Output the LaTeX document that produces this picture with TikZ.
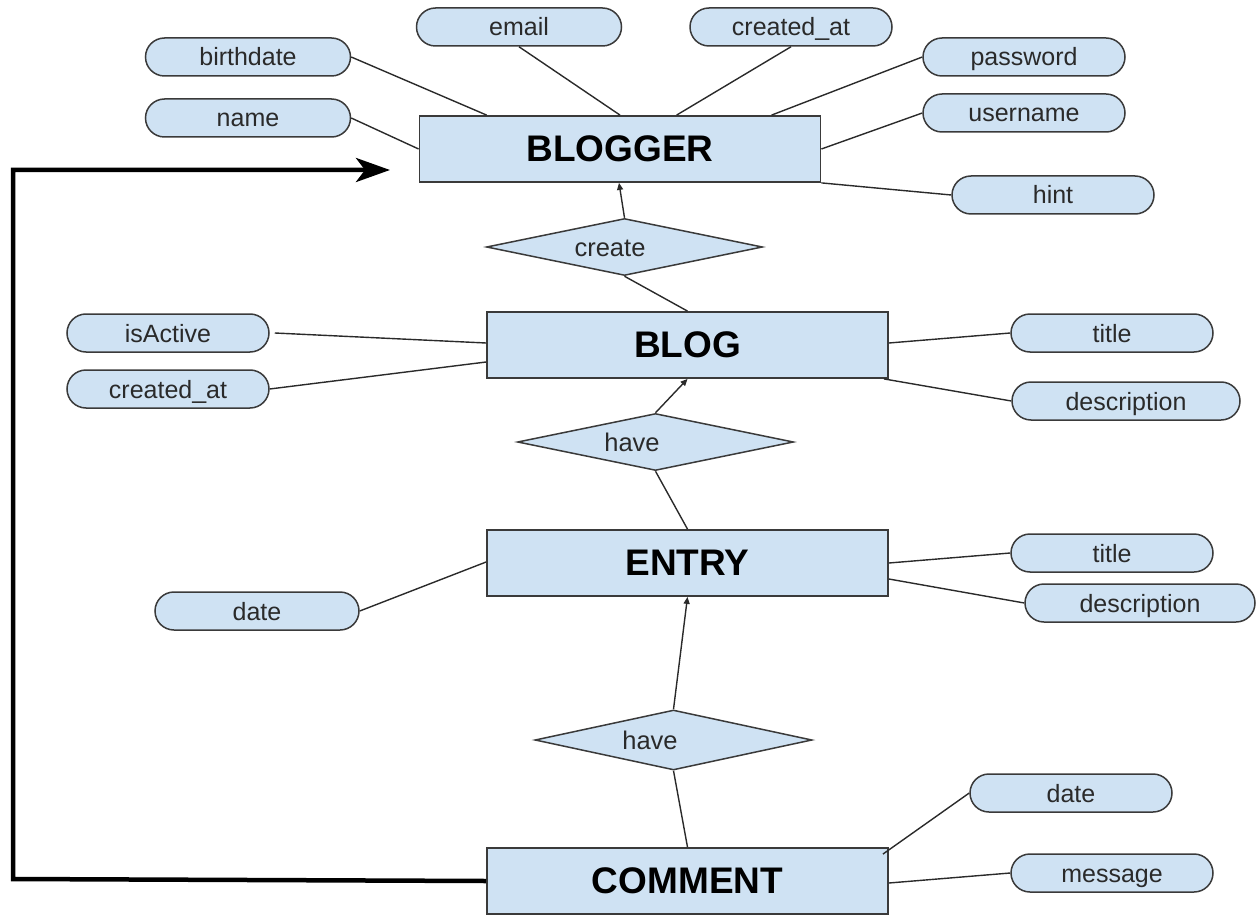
\documentclass[tikz,border=0pt]{standalone}
\usepackage{fontspec}
\setmainfont{Liberation Sans}
\usetikzlibrary{shapes.geometric,arrows.meta}
\definecolor{erfill}{HTML}{CFE2F3}
\definecolor{erline}{HTML}{3A3A3A}
\definecolor{ertext}{HTML}{2A2A2A}
\begin{document}
\begin{tikzpicture}[x=1pt,y=-1pt,
  entity/.style={draw=erline,line width=1.8pt,fill=erfill,minimum width=401pt,minimum height=66pt,inner sep=0pt,font=\fontsize{37}{44}\selectfont\bfseries},
  attr/.style={draw=erline,line width=1.5pt,fill=erfill,rounded corners=19pt,minimum width=202pt,minimum height=38pt,inner sep=0pt,text=ertext,text height=18pt,text depth=0pt,font=\fontsize{25}{30}\selectfont},
  rel/.style={draw=erline,line width=1.5pt,fill=erfill,diamond,inner sep=0pt,minimum width=276pt,minimum height=57pt},
  reltext/.style={text=ertext,text height=18pt,text depth=0pt,inner sep=0pt,font=\fontsize{25.5}{30}\selectfont},
  conn/.style={draw=ertext,line width=1.4pt},
  connarrow/.style={conn,-{Triangle[length=7pt,width=6pt]}},
  loop/.style={draw=black,line width=4.5pt,-{Stealth[length=34pt,width=24pt,inset=9pt]}}
]
\useasboundingbox (0,0) rectangle (1257,917);

% entities
\node[entity] (blogger) at (620,149) {BLOGGER};
\node[entity] (blog) at (687.5,345) {BLOG};
\node[entity] (entry) at (687.5,563) {ENTRY};
\node[entity] (comment) at (687.5,881) {COMMENT};

% relationships
\node[rel] (create) at (624.5,247) {};
\node[reltext] (createtxt) at (610,247) {create};
\node[rel] (have1) at (655.5,442) {};
\node[reltext] (have1txt) at (632,442) {have};
\node[rel,minimum width=277pt,minimum height=60pt] (have2) at (673.5,740) {};
\node[reltext] (have2txt) at (650,740) {have};

% attributes
\node[attr,minimum width=205pt] (birthdate) at (248,57) {birthdate};
\node[attr,minimum width=205pt] (email) at (519,27) {email};
\node[attr] (cat1) at (791,27) {created\_at};
\node[attr] (password) at (1024,57) {password};
\node[attr,minimum width=205pt] (name) at (248,118) {name};
\node[attr] (username) at (1024,113) {username};
\node[attr] (hint) at (1053,195) {hint};
\node[attr] (isactive) at (168,333) {isActive};
\node[attr] (cat2) at (168,389) {created\_at};
\node[attr] (btitle) at (1112,333) {title};
\node[attr,minimum width=228pt] (bdesc) at (1126,401) {description};
\node[attr,minimum width=204pt] (edate) at (257,611) {date};
\node[attr] (etitle) at (1112,553) {title};
\node[attr,minimum width=230pt] (edesc) at (1140,603) {description};
\node[attr] (cdate) at (1071,793) {date};
\node[attr] (cmsg) at (1112,873) {message};

% attribute connectors
\draw[conn] (birthdate.east) -- ([xshift=68pt]blogger.north west);
\draw[conn] (email.south) -- (blogger.north);
\draw[conn] (cat1.south) -- ([xshift=258pt]blogger.north west);
\draw[conn] (password.west) -- ([xshift=353pt]blogger.north west);
\draw[conn] (name.east) -- (blogger.west);
\draw[conn] (username.west) -- (blogger.east);
\draw[conn] (hint.west) -- (blogger.south east);
\draw[conn] ([xshift=5pt]isactive.east) -- ([yshift=2pt]blog.west);
\draw[conn] (cat2.east) -- ([yshift=-17pt]blog.west);
\draw[conn] (btitle.west) -- ([yshift=2pt]blog.east);
\draw[conn] (bdesc.west) -- ([xshift=-5pt]blog.south east);
\draw[conn] (edate.east) -- ([yshift=1pt]entry.west);
\draw[conn] (etitle.west) -- (entry.east);
\draw[conn] (edesc.west) -- ([yshift=-16pt]entry.east);
\draw[conn] (cdate.west) -- ([xshift=-6pt,yshift=-7pt]comment.north east);
\draw[conn] (cmsg.west) -- ([yshift=-2pt]comment.east);

% relationship connectors
\draw[connarrow] (create.north) -- ([xshift=-1pt]blogger.south);
\draw[conn] (create.south) -- (blog.north);
\draw[connarrow] (have1.north) -- (blog.south);
\draw[conn] (have1.south) -- (entry.north);
\draw[connarrow] (have2.north) -- (entry.south);
\draw[conn] (have2.south) -- (comment.north);

% loop arrow
\coordinate (loopa) at (13,879);
\coordinate (loopb) at (13,170);
\coordinate (loopend) at (390,170);
\draw[loop] (comment.west) -- (loopa) -- (loopb) -- (loopend);
\end{tikzpicture}
\end{document}
